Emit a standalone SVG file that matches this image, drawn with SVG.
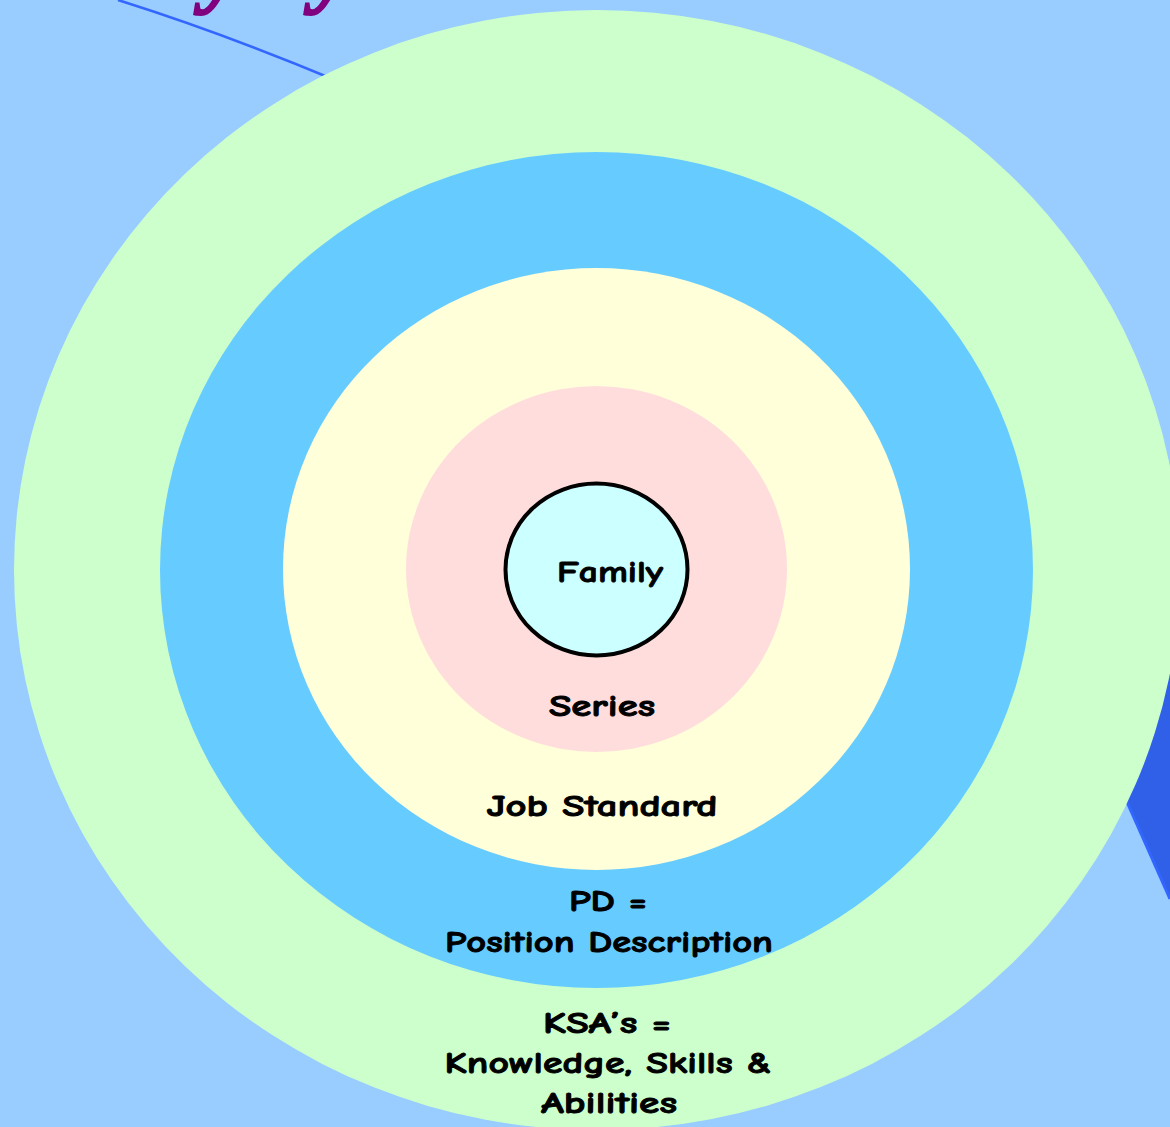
<svg xmlns="http://www.w3.org/2000/svg" width="1170" height="1127" viewBox="0 0 1170 1127">
<style>
.lbl{font-family:"Comic Sans MS","Comic Neue","DejaVu Sans",sans-serif;font-weight:bold;font-size:31px;fill:#000;stroke:#000;stroke-width:0.9;text-anchor:middle}
.frag{font-family:"Liberation Serif",serif;font-weight:bold;font-style:italic;font-size:88px;fill:#800080;stroke:#800080;stroke-width:2}
</style>
<rect x="0" y="0" width="1170" height="1127" fill="#99ccff"/>
<text class="frag" x="203" y="-4">y</text>
<text class="frag" x="313" y="-4">y</text>
<g id="connectors">
<path d="M118,0 Q220,32 335,80" fill="none" stroke="#3366ff" stroke-width="2.5"/>
<path d="M1170,897 L1127,802 L1080,700 L1080,640 L1175,640 L1175,897 Z" fill="#3060e8"/>
<path d="M1170,899 L1127,802" stroke="#3366ff" stroke-width="3" fill="none"/>
</g>
<g id="ksa"><ellipse cx="597" cy="570" rx="583" ry="560" fill="#ccffcc"/></g>
<g id="pd"><ellipse cx="596.5" cy="570" rx="436.5" ry="418" fill="#66ccff"/></g>
<g id="job"><ellipse cx="596.5" cy="569" rx="313.5" ry="301" fill="#ffffd9"/></g>
<g id="series"><ellipse cx="596.5" cy="569" rx="190.5" ry="183" fill="#ffdddd"/></g>
<g id="family"><ellipse cx="596.5" cy="569.5" rx="91" ry="86" fill="#ccffff" stroke="#000" stroke-width="4"/>
<text class="lbl" x="610" y="582" textLength="106" lengthAdjust="spacingAndGlyphs">Family</text></g>
<g id="labels">
<text class="lbl" x="602" y="716" textLength="106" lengthAdjust="spacingAndGlyphs">Series</text>
<text class="lbl" x="602" y="816" textLength="231" lengthAdjust="spacingAndGlyphs">Job Standard</text>
<text class="lbl" x="608" y="911" textLength="78" lengthAdjust="spacingAndGlyphs">PD =</text>
<text class="lbl" x="609" y="952" textLength="328" lengthAdjust="spacingAndGlyphs">Position Description</text>
<text class="lbl" x="607" y="1033" textLength="128" lengthAdjust="spacingAndGlyphs">KSA’s =</text>
<text class="lbl" x="608" y="1073" textLength="327" lengthAdjust="spacingAndGlyphs">Knowledge, Skills &amp;</text>
<text class="lbl" x="609" y="1113" textLength="136" lengthAdjust="spacingAndGlyphs">Abilities</text>
</g>
</svg>
